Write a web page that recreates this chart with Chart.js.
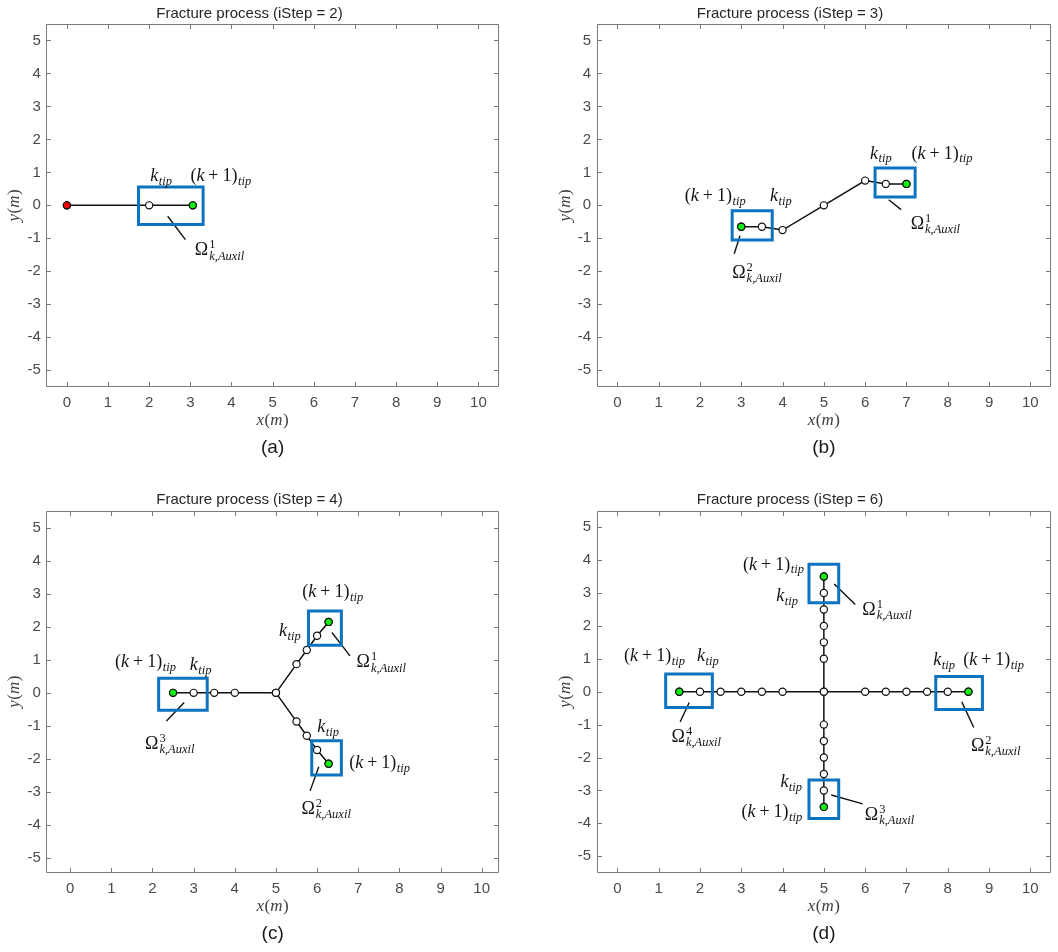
<!DOCTYPE html>
<html>
<head>
<meta charset="utf-8">
<title>Fracture process</title>
<script src="https://cdn.jsdelivr.net/npm/chart.js@4.4.1/dist/chart.umd.min.js"></script>
<style>
  html, body { margin: 0; padding: 0; background: #ffffff; }
  #wrap { position: relative; width: 1058px; height: 952px; overflow: hidden; background: #ffffff; }
  #wrap canvas { position: absolute; }
</style>
</head>
<body>
<div id="wrap">
  <canvas id="pa" width="529" height="470" style="left:0px;top:0px"></canvas>
  <canvas id="pb" width="529" height="470" style="left:529px;top:0px"></canvas>
  <canvas id="pc" width="529" height="482" style="left:0px;top:470px"></canvas>
  <canvas id="pd" width="529" height="482" style="left:529px;top:470px"></canvas>
</div>
<script>
// ---------- axis ticks ----------
const xTickValues = [0, 1, 2, 3, 4, 5, 6, 7, 8, 9, 10];
const yTickValues = [-5, -4, -3, -2, -1, 0, 1, 2, 3, 4, 5];

// ---------- (a) iStep = 2 ----------
const aBranchX = [[0, 2, 3.06]];
const aBranchY = [[0, 0, 0]];
const aSeedX = [0];
const aSeedY = [0];
const aTipX = [3.06];
const aTipY = [0];
const aBoxX = [[1.74, 3.31]];
const aBoxY = [[-0.58, 0.56]];
const aLeadX = [[2.45, 2.88]];
const aLeadY = [[-0.33, -1.04]];

// ---------- (b) iStep = 3 ----------
const bBranchX = [[3, 3.5, 4, 5, 6, 6.5, 7]];
const bBranchY = [[-0.65, -0.65, -0.75, 0, 0.75, 0.65, 0.65]];
const bTipX = [3, 7];
const bTipY = [-0.65, 0.65];
const bBoxX = [[2.78, 3.75], [6.24, 7.21]];
const bBoxY = [[-1.05, -0.16], [0.25, 1.13]];
const bLeadX = [[2.97, 2.83], [6.57, 6.87]];
const bLeadY = [[-0.92, -1.47], [0.17, -0.13]];

// ---------- (c) iStep = 4 ----------
const cBranchX = [[2.5, 3, 3.5, 4, 5], [5, 5.5, 5.75, 6, 6.28], [5, 5.5, 5.75, 6, 6.28]];
const cBranchY = [[0, 0, 0, 0, 0], [0, 0.87, 1.3, 1.73, 2.15], [0, -0.87, -1.3, -1.73, -2.15]];
const cTipX = [2.5, 6.28, 6.28];
const cTipY = [0, 2.15, -2.15];
const cBoxX = [[2.15, 3.33], [5.79, 6.59], [5.87, 6.59]];
const cBoxY = [[-0.53, 0.44], [1.44, 2.48], [-2.49, -1.45]];
const cLeadX = [[2.77, 2.34], [6.36, 6.80], [6.04, 5.83]];
const cLeadY = [[-0.29, -0.85], [1.83, 1.12], [-2.24, -2.97]];

// ---------- (d) iStep = 6 ----------
const dBranchX = [[1.5, 2, 2.5, 3, 3.5, 4, 5, 6, 6.5, 7, 7.5, 8, 8.5],
                  [5, 5, 5, 5, 5, 5, 5, 5, 5, 5, 5, 5, 5]];
const dBranchY = [[0, 0, 0, 0, 0, 0, 0, 0, 0, 0, 0, 0, 0],
                  [-3.5, -3, -2.5, -2, -1.5, -1, 0, 1, 1.5, 2, 2.5, 3, 3.5]];
const dTipX = [1.5, 8.5, 5, 5];
const dTipY = [0, 0, 3.5, -3.5];
const dBoxX = [[1.17, 2.30], [7.71, 8.84], [4.64, 5.36], [4.64, 5.36]];
const dBoxY = [[-0.48, 0.54], [-0.54, 0.46], [2.70, 3.87], [-3.85, -2.68]];
const dLeadX = [[1.74, 1.52], [8.34, 8.63], [5.25, 5.76], [5.18, 5.94]];
const dLeadY = [[-0.33, -0.92], [-0.31, -1.09], [3.27, 2.65], [-3.14, -3.41]];

// ---------- styles ----------
const FONT_SANS = '"Liberation Sans", Arial, Helvetica, sans-serif';
const FONT_MATH = '"Liberation Serif", "Times New Roman", serif';
const BLUE = '#0d72c0';
const GREEN = '#12ee12';
const RED = '#f20000';
const INK = '#111111';
const FRAME = '#7b7b7b';
const TICK_COLOR = '#4a4a4a';
const TICK_LEN = 4.5;
const MAIN_SIZE = 18;
const SUB_SIZE = 12.5;
const MARK_R = 3.6;

// math annotations: kind 'k' = k_tip, 'k1' = (k+1)_tip, 'om' = Omega^n_{k,Auxil}
const panels = [
  {
    id: 'pa', W: 529, H: 470, area: { L: 46.3, R: 499, T: 24, B: 386.7 }, titleY: 14,
    title: 'Fracture process (iStep = 2)', caption: '(a)',
    xRange: [-0.5, 10.5], yRange: [-5.5, 5.5],
    branchX: aBranchX, branchY: aBranchY, tipX: aTipX, tipY: aTipY, seedX: aSeedX, seedY: aSeedY,
    boxX: aBoxX, boxY: aBoxY, leadX: aLeadX, leadY: aLeadY,
    labels: [
      { kind: 'k', x: 2.29, y: 0.73 }, { kind: 'k1', x: 3.74, y: 0.73 },
      { kind: 'om', n: '1', x: 3.71, y: -1.52 }
    ]
  },
  {
    id: 'pb', W: 529, H: 470, area: { L: 67.7, R: 522, T: 24, B: 386.7 }, titleY: 14,
    title: 'Fracture process (iStep = 3)', caption: '(b)',
    xRange: [-0.5, 10.5], yRange: [-5.5, 5.5],
    branchX: bBranchX, branchY: bBranchY, tipX: bTipX, tipY: bTipY,
    boxX: bBoxX, boxY: bBoxY, leadX: bLeadX, leadY: bLeadY,
    labels: [
      { kind: 'k1', x: 2.37, y: 0.14 }, { kind: 'k', x: 3.96, y: 0.14 },
      { kind: 'k', x: 6.38, y: 1.42 }, { kind: 'k1', x: 7.86, y: 1.42 },
      { kind: 'om', n: '2', x: 3.38, y: -2.2 }, { kind: 'om', n: '1', x: 7.70, y: -0.71 }
    ]
  },
  {
    id: 'pc', W: 529, H: 482, area: { L: 46.3, R: 499, T: 40.7, B: 402.7 }, titleY: 29.5,
    title: 'Fracture process (iStep = 4)', caption: '(c)',
    xRange: [-0.58, 10.42], yRange: [-5.45, 5.52],
    branchX: cBranchX, branchY: cBranchY, tipX: cTipX, tipY: cTipY,
    boxX: cBoxX, boxY: cBoxY, leadX: cLeadX, leadY: cLeadY,
    labels: [
      { kind: 'k1', x: 1.83, y: 0.79 }, { kind: 'k', x: 3.17, y: 0.69 },
      { kind: 'k', x: 5.34, y: 1.73 }, { kind: 'k1', x: 6.38, y: 2.91 },
      { kind: 'k', x: 6.27, y: -1.20 }, { kind: 'k1', x: 7.52, y: -2.28 },
      { kind: 'om', n: '3', x: 2.42, y: -1.71 }, { kind: 'om', n: '1', x: 7.56, y: 0.77 },
      { kind: 'om', n: '2', x: 6.22, y: -3.68 }
    ]
  },
  {
    id: 'pd', W: 529, H: 482, area: { L: 67.7, R: 522, T: 40.7, B: 402.7 }, titleY: 29.5,
    title: 'Fracture process (iStep = 6)', caption: '(d)',
    xRange: [-0.5, 10.5], yRange: [-5.5, 5.5],
    branchX: dBranchX, branchY: dBranchY, tipX: dTipX, tipY: dTipY,
    boxX: dBoxX, boxY: dBoxY, leadX: dLeadX, leadY: dLeadY,
    labels: [
      { kind: 'k1', x: 0.90, y: 0.93 }, { kind: 'k', x: 2.19, y: 0.93 },
      { kind: 'k', x: 7.91, y: 0.80 }, { kind: 'k1', x: 9.11, y: 0.80 },
      { kind: 'k1', x: 3.78, y: 3.71 }, { kind: 'k', x: 4.11, y: 2.75 },
      { kind: 'k', x: 4.21, y: -2.89 }, { kind: 'k1', x: 3.74, y: -3.80 },
      { kind: 'om', n: '4', x: 1.91, y: -1.53 }, { kind: 'om', n: '2', x: 9.16, y: -1.81 },
      { kind: 'om', n: '1', x: 6.53, y: 2.34 }, { kind: 'om', n: '3', x: 6.59, y: -3.90 }
    ]
  }
];

// ---------- helpers ----------
function pts(xs, ys) { return xs.map((x, i) => ({ x: x, y: ys[i] })); }
function rectPts(bx, by) {
  return [{ x: bx[0], y: by[0] }, { x: bx[1], y: by[0] }, { x: bx[1], y: by[1] },
          { x: bx[0], y: by[1] }, { x: bx[0], y: by[0] }];
}
function mathFont(style, size) { return style + ' ' + size + 'px ' + FONT_MATH; }

// draw a row of text runs centred on cx, with a shared baseline
function drawRuns(ctx, runs, cx, base) {
  let total = 0;
  runs.forEach(r => {
    ctx.font = mathFont(r.style, r.size);
    r.w = ctx.measureText(r.t).width;
    total += r.w + (r.gap || 0);
  });
  let x = cx - total / 2;
  runs.forEach(r => {
    ctx.font = mathFont(r.style, r.size);
    ctx.fillText(r.t, x, base + (r.dy || 0));
    x += r.w + (r.gap || 0);
  });
}

function kTip() {
  return [
    { t: 'k', style: 'italic', size: MAIN_SIZE, gap: 0.5 },
    { t: 'tip', style: 'italic', size: SUB_SIZE, dy: 3.8 }
  ];
}
function k1Tip() {
  return [
    { t: '(', style: 'normal', size: MAIN_SIZE },
    { t: 'k', style: 'italic', size: MAIN_SIZE, gap: 4 },
    { t: '+', style: 'normal', size: MAIN_SIZE, gap: 4 },
    { t: '1', style: 'normal', size: MAIN_SIZE },
    { t: ')', style: 'normal', size: MAIN_SIZE, gap: 0.5 },
    { t: 'tip', style: 'italic', size: SUB_SIZE, dy: 3.8 }
  ];
}
// Omega with a superscript index and a k,Auxil subscript stacked at the same x
function omegaLabel(ctx, n, cx, base) {
  ctx.font = mathFont('normal', MAIN_SIZE);
  const wO = ctx.measureText('\u03A9').width;
  ctx.font = mathFont('normal', SUB_SIZE);
  const wSup = ctx.measureText(n).width;
  ctx.font = mathFont('italic', SUB_SIZE);
  const wSub = ctx.measureText('k,Auxil').width;
  const total = wO + 1 + Math.max(wSup, wSub);
  const x0 = cx - total / 2;
  ctx.font = mathFont('normal', MAIN_SIZE);
  ctx.fillText('\u03A9', x0, base);
  ctx.font = mathFont('normal', SUB_SIZE);
  ctx.fillText(n, x0 + wO + 1, base - 7);
  ctx.font = mathFont('italic', SUB_SIZE);
  ctx.fillText('k,Auxil', x0 + wO + 1, base + 4.2);
}

function makeOverlay(p) {
  return {
    id: 'overlay_' + p.id,
    afterDraw(chart) {
      const ctx = chart.ctx;
      const a = chart.chartArea;
      const xs = chart.scales.x, ys = chart.scales.y;
      ctx.save();

      // axes box with inward ticks on all four sides
      const l = Math.round(a.left) + 0.5, r = Math.round(a.right) - 0.5;
      const t = Math.round(a.top) + 0.5, b = Math.round(a.bottom) - 0.5;
      ctx.strokeStyle = FRAME;
      ctx.lineWidth = 1;
      ctx.beginPath();
      ctx.rect(l, t, r - l, b - t);
      xTickValues.forEach(v => {
        const px = Math.round(xs.getPixelForValue(v)) + 0.5;
        ctx.moveTo(px, b); ctx.lineTo(px, b - TICK_LEN);
        ctx.moveTo(px, t); ctx.lineTo(px, t + TICK_LEN);
      });
      yTickValues.forEach(v => {
        const py = Math.round(ys.getPixelForValue(v)) + 0.5;
        ctx.moveTo(l, py); ctx.lineTo(l + TICK_LEN, py);
        ctx.moveTo(r, py); ctx.lineTo(r - TICK_LEN, py);
      });
      ctx.stroke();

      // axis titles x(m), y(m)
      ctx.fillStyle = '#404040';
      ctx.textBaseline = 'alphabetic';
      ctx.textAlign = 'left';
      const axisRuns = (v) => [
        { t: v, style: 'italic', size: 17, gap: 0.5 },
        { t: '(', style: 'normal', size: 17 },
        { t: 'm', style: 'italic', size: 17, gap: 0.5 },
        { t: ')', style: 'normal', size: 17 }
      ];
      drawRuns(ctx, axisRuns('x'), (a.left + a.right) / 2, a.bottom + 38.5);
      ctx.save();
      ctx.translate(a.left - 27, (a.top + a.bottom) / 2);
      ctx.rotate(-Math.PI / 2);
      drawRuns(ctx, axisRuns('y'), 0, 0);
      ctx.restore();

      // panel caption
      ctx.fillStyle = '#1a1a1a';
      ctx.font = '19px ' + FONT_SANS;
      ctx.textAlign = 'center';
      ctx.fillText(p.caption, (a.left + a.right) / 2, a.bottom + 66);

      // tip annotations
      ctx.textAlign = 'left';
      ctx.fillStyle = '#141414';
      p.labels.forEach(lb => {
        const cx = xs.getPixelForValue(lb.x);
        const base = ys.getPixelForValue(lb.y);
        if (lb.kind === 'k') drawRuns(ctx, kTip(), cx, base);
        else if (lb.kind === 'k1') drawRuns(ctx, k1Tip(), cx, base);
        else omegaLabel(ctx, lb.n, cx, base);
      });
      ctx.restore();
    }
  };
}

function buildDatasets(p) {
  const ds = [];
  p.boxX.forEach((bx, i) => ds.push({
    data: rectPts(bx, p.boxY[i]), showLine: true, borderColor: BLUE, borderWidth: 3,
    borderCapStyle: 'square', borderJoinStyle: 'miter', pointRadius: 0, order: 0
  }));
  p.leadX.forEach((lx, i) => ds.push({
    data: pts(lx, p.leadY[i]), showLine: true, borderColor: INK, borderWidth: 1.4,
    pointRadius: 0, order: 1
  }));
  ds.push({
    data: pts(p.tipX, p.tipY), showLine: false, pointRadius: MARK_R,
    pointBackgroundColor: GREEN, pointBorderColor: INK, pointBorderWidth: 1.2, order: 2
  });
  if (p.seedX) ds.push({
    data: pts(p.seedX, p.seedY), showLine: false, pointRadius: MARK_R,
    pointBackgroundColor: RED, pointBorderColor: INK, pointBorderWidth: 1.2, order: 2
  });
  p.branchX.forEach((bx, i) => ds.push({
    data: pts(bx, p.branchY[i]), showLine: true, borderColor: INK, borderWidth: 1.5,
    pointRadius: MARK_R, pointBackgroundColor: '#ffffff', pointBorderColor: INK,
    pointBorderWidth: 1.2, order: 3
  }));
  return ds;
}

panels.forEach(p => {
  const A = p.area;
  const tickFont = { family: FONT_SANS, size: 15 };
  new Chart(document.getElementById(p.id), {
    type: 'scatter',
    data: { datasets: buildDatasets(p) },
    plugins: [makeOverlay(p)],
    options: {
      responsive: false,
      animation: false,
      events: [],
      layout: { padding: { left: 0, top: 0, right: p.W - A.R, bottom: 0 } },
      elements: { line: { tension: 0 } },
      plugins: {
        legend: { display: false },
        tooltip: { enabled: false },
        title: {
          display: true, text: p.title, color: '#262626',
          font: { family: FONT_SANS, size: 15, weight: 'normal', lineHeight: 1.2 },
          padding: { top: p.titleY - 9, bottom: A.T - (p.titleY - 9) - 18 }
        }
      },
      scales: {
        x: {
          type: 'linear', position: 'bottom', min: p.xRange[0], max: p.xRange[1],
          afterBuildTicks: s => { s.ticks = xTickValues.map(v => ({ value: v })); },
          afterFit: s => { s.height = p.H - A.B; },
          grid: { display: false, drawTicks: false },
          border: { display: false },
          ticks: { font: tickFont, color: TICK_COLOR, padding: 7, maxRotation: 0, autoSkip: false }
        },
        y: {
          type: 'linear', position: 'left', min: p.yRange[0], max: p.yRange[1],
          afterBuildTicks: s => { s.ticks = yTickValues.map(v => ({ value: v })); },
          afterFit: s => { s.width = A.L; },
          grid: { display: false, drawTicks: false },
          border: { display: false },
          ticks: { font: tickFont, color: TICK_COLOR, padding: 5.5, autoSkip: false }
        }
      }
    }
  });
});
</script>
</body>
</html>
